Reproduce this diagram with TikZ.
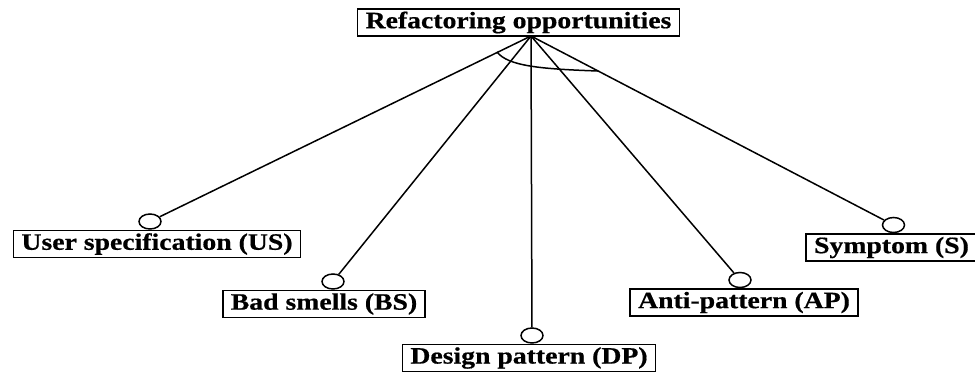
\documentclass[tikz,border=0pt]{standalone}
\usepackage{fontspec}
\usetikzlibrary{shapes.geometric}
\setmainfont[FakeStretch=1.18,FakeBold=0.6]{Liberation Serif}
\begin{document}
\begin{tikzpicture}[x=1pt,y=-1pt,
  lbl/.style={draw,line width=1.5pt,inner xsep=8pt,inner ysep=0pt,minimum height=27pt,
    font=\fontsize{23.5}{25}\selectfont\bfseries,anchor=center},
  circ/.style={draw,line width=1.5pt,ellipse,minimum width=22pt,minimum height=15pt,inner sep=0pt,anchor=south},
  conn/.style={line width=1.5pt}]
\useasboundingbox (0,0) rectangle (975,372);
\node[lbl] (top) at (518.5,22.5) {Refactoring opportunities};
\coordinate (apex) at (531,36);
\node[lbl] (us) at (157,244) {User specification (US)};
\node[lbl] (bs) at (324,304) {Bad smells (BS)};
\node[lbl] (dp) at (529,358) {Design pattern (DP)};
\node[lbl] (ap) at (744,302.5) {Anti-pattern (AP)};
\node[lbl] (s) at (891.5,247.5) {Symptom (S)};
\coordinate (xus) at (150,0);
\coordinate (xbs) at (333,0);
\coordinate (xdp) at (532,0);
\coordinate (xap) at (740,0);
\coordinate (xs) at (893.5,0);
\node[circ] (cus) at (us.north -| xus) {};
\node[circ] (cbs) at (bs.north -| xbs) {};
\node[circ] (cdp) at (dp.north -| xdp) {};
\node[circ] (cap) at (ap.north -| xap) {};
\node[circ] (cs) at (s.north -| xs) {};
\foreach \c in {cus,cbs,cdp,cap,cs} \draw[conn] (apex) -- (\c);
\coordinate (arcA) at (497,52);
\coordinate (arcB) at (598,71);
\draw[conn] (arcA) .. controls (508,66) and (540,69) .. (arcB);
\end{tikzpicture}
\end{document}
